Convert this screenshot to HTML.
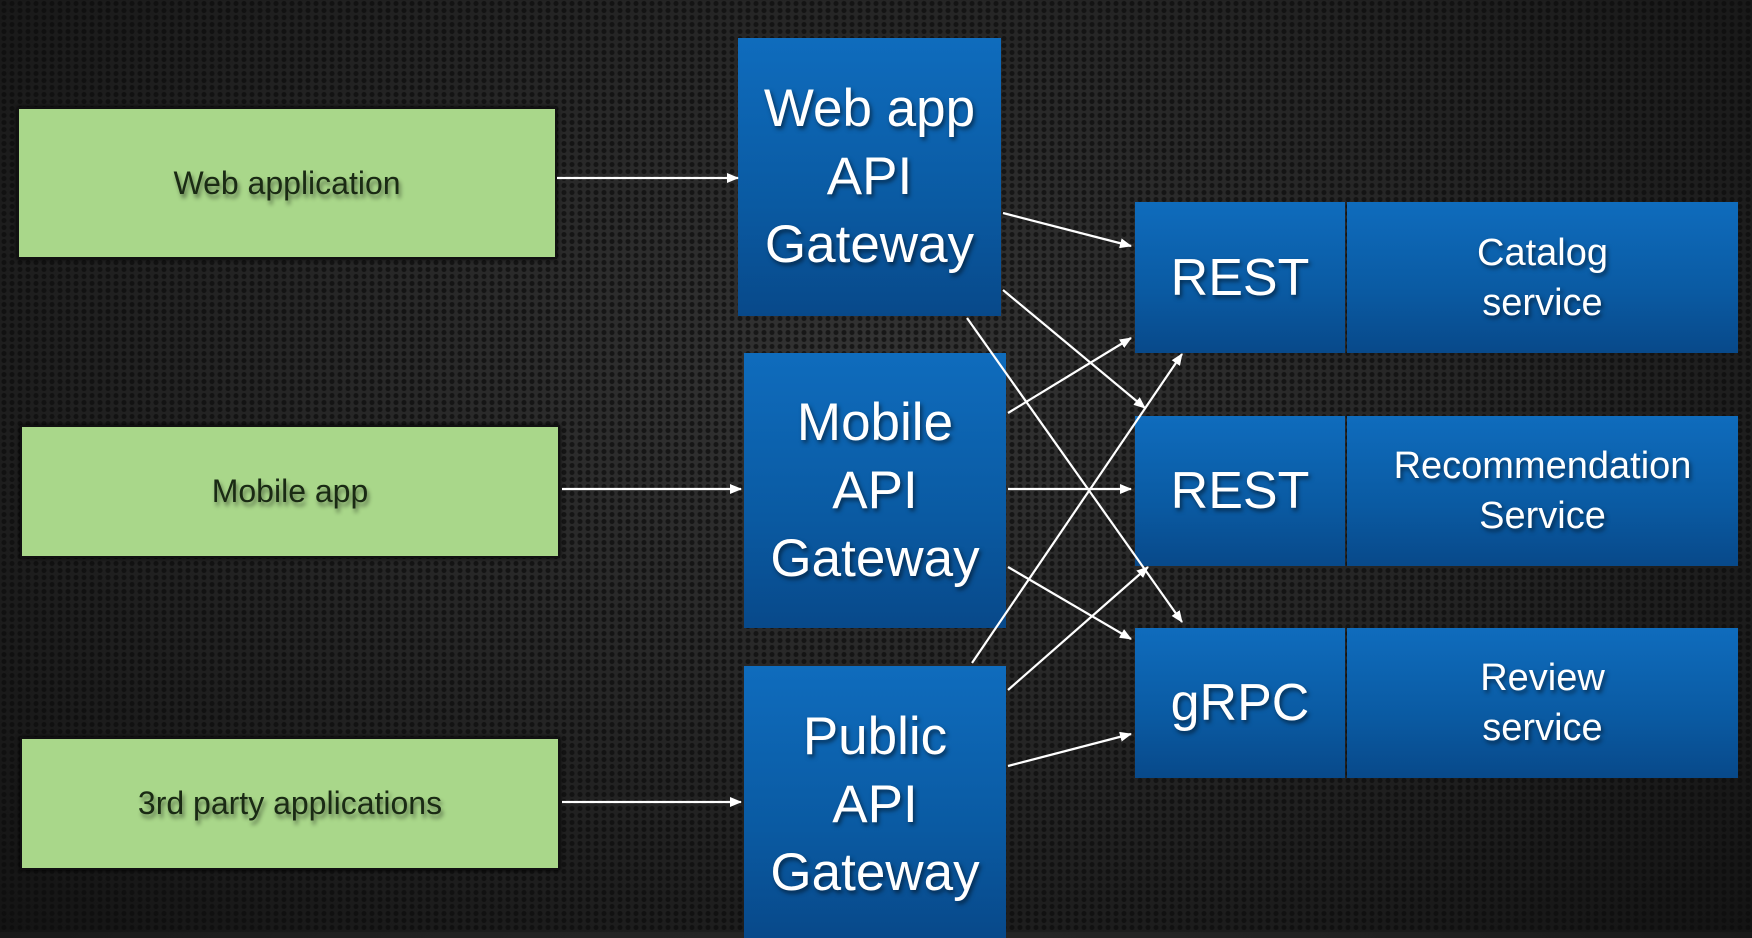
<!DOCTYPE html>
<html><head><meta charset="utf-8"><style>
html,body{margin:0;padding:0}
body{width:1752px;height:932px;overflow:hidden;position:relative;font-family:"Liberation Sans",sans-serif;
background:radial-gradient(ellipse at 50% 40%,#333 0%,#262626 45%,#141414 100%);}
.tex{position:absolute;inset:0;background-image:radial-gradient(circle,#0c0c0c 2.2px,transparent 2.8px);background-size:8px 7px;opacity:.7}
.g{position:absolute;background:#a9d78a;border:2px solid #111;box-shadow:0 0 4px #000;display:flex;align-items:center;justify-content:center;font-size:32px;color:#1a2a14;text-shadow:2px 4px 4px rgba(0,0,0,.45)}
.b{position:absolute;background:linear-gradient(#0f6cbd,#0a5aa2 60%,#08498a);display:flex;align-items:center;justify-content:center;text-align:center;color:#fff;text-shadow:2px 3px 4px rgba(0,0,0,.5)}
.gw{font-size:53px;line-height:68px}
.r{font-size:52px}
.s{font-size:38px;line-height:50px}
</style></head><body>
<div class="tex"></div>
<div class="g" style="left:17px;top:107px;width:536px;height:148px">Web application</div>
<div class="g" style="left:20px;top:425px;width:536px;height:129px">Mobile app</div>
<div class="g" style="left:20px;top:737px;width:536px;height:129px">3rd party applications</div>

<div class="b gw" style="left:738px;top:38px;width:263px;height:278px">Web app<br>API<br>Gateway</div>
<div class="b gw" style="left:744px;top:353px;width:262px;height:275px">Mobile<br>API<br>Gateway</div>
<div class="b gw" style="left:744px;top:666px;width:262px;height:266px;padding-top:6px">Public<br>API<br>Gateway</div>

<div class="b r" style="left:1135px;top:202px;width:210px;height:151px">REST</div>
<div class="b s" style="left:1347px;top:202px;width:391px;height:151px">Catalog<br>service</div>
<div class="b r" style="left:1135px;top:416px;width:210px;height:150px">REST</div>
<div class="b s" style="left:1347px;top:416px;width:391px;height:150px">Recommendation<br>Service</div>
<div class="b r" style="left:1135px;top:628px;width:210px;height:150px">gRPC</div>
<div class="b s" style="left:1347px;top:628px;width:391px;height:150px">Review<br>service</div>

<svg width="1752" height="932" style="position:absolute;left:0;top:0">
<defs><marker id="a" markerWidth="12" markerHeight="10" refX="11" refY="5" orient="auto" markerUnits="userSpaceOnUse" viewBox="0 0 12 10"><path d="M0,0 L12,5 L0,10 z" fill="#fff"/></marker></defs>
<g stroke="#fff" stroke-width="2.2" fill="none" marker-end="url(#a)">
<line x1="557" y1="178" x2="738" y2="178"/>
<line x1="562" y1="489" x2="741" y2="489"/>
<line x1="562" y1="802" x2="741" y2="802"/>
<line x1="1003" y1="213" x2="1131" y2="246"/>
<line x1="1003" y1="290" x2="1145" y2="408"/>
<line x1="967" y1="318" x2="1182" y2="622"/>
<line x1="1008" y1="413" x2="1131" y2="338"/>
<line x1="1008" y1="489" x2="1131" y2="489"/>
<line x1="1008" y1="567" x2="1131" y2="639"/>
<line x1="972" y1="663" x2="1182" y2="354"/>
<line x1="1008" y1="690" x2="1148" y2="567"/>
<line x1="1008" y1="766" x2="1131" y2="734"/>
</g></svg>
</body></html>
